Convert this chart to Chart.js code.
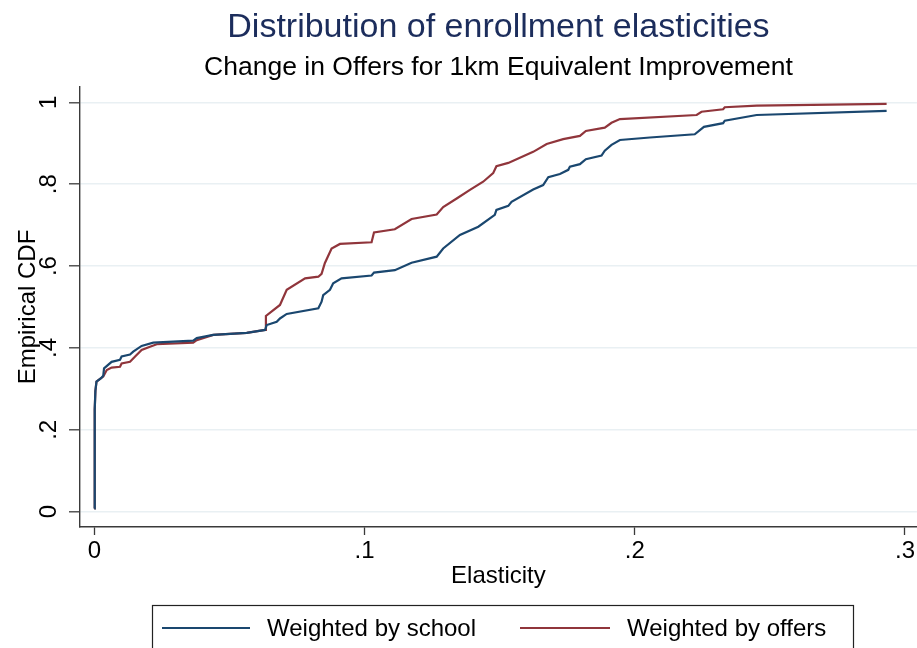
<!DOCTYPE html>
<html>
<head>
<meta charset="utf-8">
<title>Distribution of enrollment elasticities</title>
<script src="https://cdn.jsdelivr.net/npm/chart.js@4/dist/chart.umd.min.js"></script>
<style>
  html, body { margin: 0; padding: 0; background: #ffffff; }
  #wrap { width: 917px; height: 648px; position: relative; }
</style>
</head>
<body>
<div id="wrap"><canvas id="cdf" width="917" height="648"></canvas></div>
<script>
// Empirical CDF of elasticities, school-weighted
const schoolX = [0, 0.0001, 0.0002, 0.0004, 0.0008, 0.0025, 0.0033, 0.0036, 0.0064, 0.0095,
  0.0101, 0.0132, 0.0144, 0.0175, 0.0218, 0.0366, 0.0379, 0.0440, 0.0564, 0.0632,
  0.0638, 0.0675, 0.0687, 0.0712, 0.0829, 0.0841, 0.0847, 0.0872, 0.0884, 0.0915,
  0.1026, 0.1035, 0.1112, 0.1174, 0.1267, 0.1291, 0.1353, 0.1421, 0.1482, 0.1488,
  0.1532, 0.1544, 0.1624, 0.1661, 0.1680, 0.1723, 0.1754, 0.1760, 0.1797, 0.1819,
  0.1877, 0.1889, 0.1914, 0.1945, 0.2056, 0.2222, 0.2256, 0.2327, 0.2333, 0.2451,
  0.2932];
const schoolY = [0.008, 0.13, 0.25, 0.295, 0.318, 0.326, 0.332, 0.350, 0.366, 0.371,
  0.379, 0.384, 0.391, 0.405, 0.413, 0.418, 0.424, 0.432, 0.437, 0.444,
  0.456, 0.464, 0.472, 0.483, 0.497, 0.513, 0.529, 0.542, 0.558, 0.570,
  0.577, 0.584, 0.590, 0.608, 0.623, 0.643, 0.676, 0.696, 0.725, 0.737,
  0.747, 0.757, 0.787, 0.798, 0.817, 0.825, 0.835, 0.843, 0.849, 0.861,
  0.870, 0.882, 0.896, 0.908, 0.914, 0.922, 0.940, 0.949, 0.955, 0.969,
  0.979];

// Empirical CDF of elasticities, offer-weighted
const offersX = [0, 0.0001, 0.0002, 0.0004, 0.0008, 0.0025, 0.0033, 0.0046, 0.0064, 0.0095,
  0.0101, 0.0132, 0.0151, 0.0175, 0.0206, 0.0231, 0.0366, 0.0379, 0.0440, 0.0564,
  0.0632, 0.0635, 0.0687, 0.0712, 0.0780, 0.0829, 0.0841, 0.0853, 0.0878, 0.0909,
  0.1026, 0.1035, 0.1112, 0.1174, 0.1267, 0.1291, 0.1341, 0.1390, 0.1439, 0.1476,
  0.1488, 0.1532, 0.1624, 0.1674, 0.1735, 0.1797, 0.1819, 0.1889, 0.1914, 0.1945,
  0.2229, 0.2247, 0.2327, 0.2333, 0.2451, 0.2932];
const offersY = [0.008, 0.13, 0.25, 0.295, 0.318, 0.326, 0.330, 0.346, 0.352, 0.354,
  0.362, 0.366, 0.379, 0.395, 0.403, 0.409, 0.413, 0.419, 0.432, 0.437,
  0.444, 0.478, 0.505, 0.542, 0.570, 0.574, 0.581, 0.607, 0.643, 0.654,
  0.658, 0.682, 0.690, 0.715, 0.726, 0.744, 0.765, 0.786, 0.806, 0.827,
  0.844, 0.852, 0.879, 0.898, 0.910, 0.918, 0.930, 0.938, 0.950, 0.959,
  0.969, 0.977, 0.983, 0.988, 0.992, 0.996];

const seriesLabels = ['Weighted by school', 'Weighted by offers'];
const xTicks = [0, 0.1, 0.2, 0.3];
const xTickLabels = ['0', '.1', '.2', '.3'];
const yTicks = [0, 0.2, 0.4, 0.6, 0.8, 1];
const yTickLabels = ['0', '.2', '.4', '.6', '.8', '1'];

const FONT = '"Liberation Sans", Arial, Helvetica, sans-serif';
const BLUE = '#1a476f';
const RED = '#90353b';
const AXIS = '#3a3a3a';
const GRID = '#e9f0f3';

const toPoints = (xs, ys) => xs.map((x, i) => ({ x: x, y: ys[i] }));
const labelFor = (vals, labels) => (v) => {
  const i = vals.findIndex(t => Math.abs(t - v) < 1e-9);
  return i >= 0 ? labels[i] : '';
};

// Titles above the plot and the boxed legend below it
const decorations = {
  id: 'decorations',
  afterDraw(chart) {
    const ctx = chart.ctx;
    const area = chart.chartArea;
    const cx = (area.left + area.right) / 2;
    ctx.save();
    ctx.textAlign = 'center';
    ctx.textBaseline = 'alphabetic';
    ctx.fillStyle = '#1c2d5c';
    ctx.font = '34px ' + FONT;
    ctx.fillText('Distribution of enrollment elasticities', cx, 37);
    ctx.fillStyle = '#000000';
    ctx.font = '26.5px ' + FONT;
    ctx.fillText('Change in Offers for 1km Equivalent Improvement', cx, 75);

    // legend box
    ctx.strokeStyle = '#222222';
    ctx.lineWidth = 1.2;
    ctx.strokeRect(152.5, 605.5, 701, 60);
    const entries = [
      { x0: 162, x1: 250, tx: 267 },
      { x0: 520, x1: 610, tx: 627 }
    ];
    ctx.font = '24px ' + FONT;
    ctx.textAlign = 'left';
    ctx.textBaseline = 'middle';
    chart.data.datasets.forEach((ds, i) => {
      const e = entries[i];
      ctx.strokeStyle = ds.borderColor;
      ctx.lineWidth = ds.borderWidth;
      ctx.beginPath();
      ctx.moveTo(e.x0, 628);
      ctx.lineTo(e.x1, 628);
      ctx.stroke();
      ctx.fillStyle = '#000000';
      ctx.fillText(ds.label, e.tx, 629);
    });
    ctx.restore();
  }
};

new Chart(document.getElementById('cdf'), {
  type: 'scatter',
  data: {
    datasets: [
      {
        label: seriesLabels[0],
        data: toPoints(schoolX, schoolY),
        showLine: true,
        borderColor: BLUE,
        backgroundColor: BLUE,
        borderWidth: 2.2,
        pointRadius: 0,
        tension: 0
      },
      {
        label: seriesLabels[1],
        data: toPoints(offersX, offersY),
        showLine: true,
        borderColor: RED,
        backgroundColor: RED,
        borderWidth: 2.2,
        pointRadius: 0,
        tension: 0
      }
    ]
  },
  options: {
    responsive: false,
    animation: false,
    devicePixelRatio: 1,
    layout: { padding: { top: 87, left: 0, right: 0, bottom: 0 } },
    plugins: {
      legend: { display: false },
      title: { display: false },
      tooltip: { enabled: false }
    },
    scales: {
      x: {
        type: 'linear',
        min: -0.0053,
        max: 0.3044,
        afterBuildTicks: (s) => { s.ticks = xTicks.map(v => ({ value: v })); },
        afterFit: (s) => { s.height = 121; },
        ticks: {
          callback: labelFor(xTicks, xTickLabels),
          color: '#000000',
          font: { family: FONT, size: 24 },
          padding: 2,
          maxRotation: 0,
          autoSkip: false
        },
        grid: {
          drawOnChartArea: false,
          drawTicks: true,
          tickLength: 8,
          tickColor: AXIS,
          tickWidth: 1.3
        },
        border: { display: true, color: AXIS, width: 1.4 },
        title: {
          display: true,
          text: 'Elasticity',
          color: '#000000',
          font: { family: FONT, size: 24 },
          padding: { top: 0, bottom: 57 }
        }
      },
      y: {
        type: 'linear',
        min: -0.0374,
        max: 1.0374,
        afterBuildTicks: (s) => { s.ticks = yTicks.map(v => ({ value: v })); },
        afterFit: (s) => { s.width = 80; },
        ticks: {
          callback: labelFor(yTicks, yTickLabels),
          color: '#000000',
          font: { family: FONT, size: 24 },
          minRotation: 90,
          maxRotation: 90,
          crossAlign: 'center',
          padding: 10,
          autoSkip: false
        },
        grid: {
          color: GRID,
          lineWidth: 1.6,
          drawTicks: true,
          tickLength: 11,
          tickColor: AXIS,
          tickWidth: 1.3
        },
        border: { display: true, color: AXIS, width: 1.4 },
        title: {
          display: true,
          text: 'Empirical CDF',
          color: '#000000',
          font: { family: FONT, size: 24 },
          padding: { top: 14, bottom: 0 }
        }
      }
    }
  },
  plugins: [decorations]
});
</script>
</body>
</html>
